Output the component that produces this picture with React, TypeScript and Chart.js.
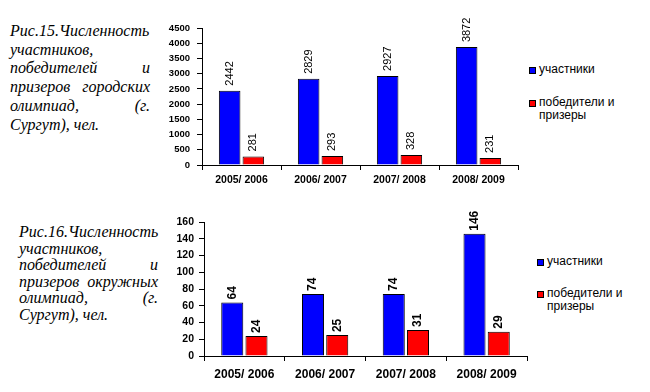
import React, { useEffect, useRef } from "react";
import { Chart, registerables } from "chart.js";

Chart.register(...registerables);

const categories = ["2005/ 2006", "2006/ 2007", "2007/ 2008", "2008/ 2009"];
const seriesNames = ["участники", "победители и призеры"];
const city1 = [2442, 2829, 2927, 3872];
const city2 = [281, 293, 328, 231];
const district1 = [64, 74, 74, 146];
const district2 = [24, 25, 31, 29];
const caption1 = "Рис.15.Численность участников, победителей и призеров городских олимпиад, (г. Сургут), чел.";
const caption2 = "Рис.16.Численность участников, победителей и призеров окружных олимпиад, (г. Сургут), чел.";
const BLUE = "#0000FF";
const RED = "#FF0000";

type Cfg = {
  a: number[];
  b: number[];
  max: number;
  step: number;
  yWidth: number;
  xHeight: number;
  padTop: number;
  padRight: number;
  yFont: number;
  xFont: number;
  xPad: number;
  yPad: number;
  labelFont: string;
  labelGap: number;
};

function BarChart({ cfg, style }: { cfg: Cfg; style: React.CSSProperties }) {
  const ref = useRef<HTMLCanvasElement>(null);
  useEffect(() => {
    const labelsPlugin = {
      id: "vlabels",
      afterDatasetsDraw(chart: any) {
        const ctx = chart.ctx;
        ctx.save();
        ctx.fillStyle = "#000";
        ctx.font = cfg.labelFont;
        ctx.textAlign = "left";
        ctx.textBaseline = "middle";
        chart.data.datasets.forEach((ds: any, di: number) => {
          const meta = chart.getDatasetMeta(di);
          meta.data.forEach((el: any, i: number) => {
            ctx.save();
            ctx.translate(el.x, el.y - cfg.labelGap);
            ctx.rotate(-Math.PI / 2);
            ctx.fillText(String(ds.data[i]), 0, 0);
            ctx.restore();
          });
        });
        ctx.restore();
      },
    };
    const chart = new Chart(ref.current!, {
      type: "bar",
      data: {
        labels: categories,
        datasets: [
          { label: seriesNames[0], data: cfg.a, backgroundColor: BLUE, borderColor: "#000", borderWidth: 1, categoryPercentage: 0.6, barPercentage: 0.91 },
          { label: seriesNames[1], data: cfg.b, backgroundColor: RED, borderColor: "#000", borderWidth: 1, categoryPercentage: 0.6, barPercentage: 0.91 },
        ],
      },
      options: {
        animation: false,
        responsive: false,
        maintainAspectRatio: false,
        layout: { padding: { top: cfg.padTop, right: cfg.padRight, left: 0, bottom: 0 } },
        plugins: { legend: { display: false }, tooltip: { enabled: false } },
        scales: {
          x: {
            afterFit: (s: any) => { s.height = cfg.xHeight; },
            grid: { drawOnChartArea: false, drawTicks: true, tickLength: 5, color: "#000", offset: true },
            border: { display: true, color: "#000", width: 1 },
            ticks: { color: "#000", font: { family: "Arial, 'Liberation Sans'", size: cfg.xFont, weight: "bold" }, padding: cfg.xPad, maxRotation: 0 },
          },
          y: {
            min: 0,
            max: cfg.max,
            afterFit: (s: any) => { s.width = cfg.yWidth; },
            grid: { drawOnChartArea: false, drawTicks: true, tickLength: 5, color: "#000" },
            border: { display: true, color: "#000", width: 1 },
            ticks: {
              stepSize: cfg.step,
              color: "#000",
              font: { family: "Arial, 'Liberation Sans'", size: cfg.yFont, weight: "bold" },
              padding: cfg.yPad,
              callback: (v: any) => String(v),
            },
          },
        },
      },
      plugins: [labelsPlugin],
    } as any);
    return () => chart.destroy();
  }, []);
  return <canvas ref={ref} width={style.width as number} height={style.height as number} style={{ position: "absolute", ...style }} />;
}

const captionStyle = (left: number, top: number, width: number, lh: number): React.CSSProperties => ({
  position: "absolute",
  left,
  top,
  width,
  fontFamily: "'Liberation Serif'",
  fontStyle: "italic",
  fontWeight: "normal",
  fontSize: 16,
  lineHeight: `${lh}px`,
  textAlign: "justify",
  color: "#000",
  margin: 0,
});

function Legend({ left, top, gap }: { left: number; top: number; gap: number }) {
  const item = (color: string, text: React.ReactNode, t: number) => (
    <div style={{ position: "absolute", left, top: t, display: "flex", alignItems: "flex-start" }}>
      <div style={{ width: 5, height: 5, background: color, border: "1px solid #000", marginTop: 4, marginRight: 3 }} />
      <div style={{ fontFamily: "Arial, 'Liberation Sans'", fontSize: 12, lineHeight: "13px", color: "#000" }}>{text}</div>
    </div>
  );
  return (
    <>
      {item(BLUE, seriesNames[0], top)}
      {item(RED, <>победители и<br />призеры</>, top + gap)}
    </>
  );
}

export default function App() {
  const cfg1: Cfg = { a: city1, b: city2, max: 4500, step: 500, yWidth: 52, xHeight: 30, padTop: 28, padRight: 4, yFont: 9.5, xFont: 10.5, xPad: 4, yPad: 7, labelFont: "11px Arial, 'Liberation Sans'", labelGap: 5 };
  const cfg2: Cfg = { a: district1, b: district2, max: 160, step: 20, yWidth: 54, xHeight: 36, padTop: 26, padRight: 3, yFont: 10.5, xFont: 12, xPad: 6, yPad: 5, labelFont: "bold 12px Arial, 'Liberation Sans'", labelGap: 3 };
  return (
    <div style={{ position: "fixed", left: 0, top: 0, width: 650, height: 392, background: "#fff", overflow: "hidden" }}>
      <p style={captionStyle(10, 22, 140, 18.7)}>{caption1}</p>
      <p style={captionStyle(19, 224, 139, 16.5)}>{caption2}</p>
      <BarChart cfg={cfg1} style={{ left: 150, top: 0, width: 372, height: 195 }} />
      <BarChart cfg={cfg2} style={{ left: 150, top: 196, width: 380, height: 196 }} />
      <Legend left={529} top={63} gap={33} />
      <Legend left={537} top={255} gap={32} />
    </div>
  );
}
